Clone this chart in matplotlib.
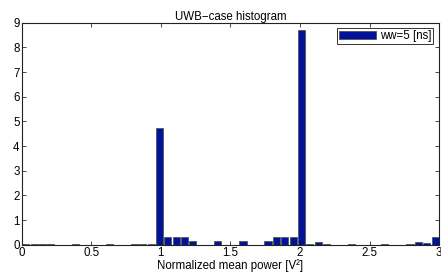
import matplotlib.pyplot as plt
import numpy as np

# bin centres (width 0.06) and bar heights
BIN_CENTERS = [0.03, 0.09, 0.15, 0.21, 0.27, 0.33, 0.39, 0.45, 0.51, 0.57,
               0.63, 0.69, 0.75, 0.81, 0.87, 0.93, 0.99, 1.05, 1.11, 1.17,
               1.23, 1.29, 1.35, 1.41, 1.47, 1.53, 1.59, 1.65, 1.71, 1.77,
               1.83, 1.89, 1.95, 2.01, 2.07, 2.13, 2.19, 2.25, 2.31, 2.37,
               2.43, 2.49, 2.55, 2.61, 2.67, 2.73, 2.79, 2.85, 2.91, 2.97]
COUNTS = [0.03, 0.03, 0.03, 0.03, 0.0, 0.0, 0.03, 0.0, 0.0, 0.0,
          0.03, 0.0, 0.0, 0.03, 0.03, 0.03, 4.73, 0.33, 0.33, 0.33,
          0.16, 0.0, 0.0, 0.16, 0.0, 0.0, 0.16, 0.0, 0.0, 0.16,
          0.33, 0.33, 0.33, 8.7, 0.05, 0.13, 0.05, 0.0, 0.0, 0.05,
          0.0, 0.0, 0.0, 0.05, 0.0, 0.0, 0.05, 0.1, 0.08, 0.33]
X_TICKS = [0, 0.5, 1, 1.5, 2, 2.5, 3]
X_TICK_LABELS = ["0", "0.5", "1", "1.5", "2", "2.5", "3"]
Y_TICKS = list(range(10))
BIN_WIDTH = 0.06

BAR_COLOR = "#00139a"
EDGE_COLOR = "#555555"
FONT_SIZE = 8.3

plt.rcParams["font.family"] = ["Liberation Sans", "DejaVu Sans"]
plt.rcParams["font.size"] = FONT_SIZE

fig = plt.figure(figsize=(4.41, 2.73), dpi=100)
ax = fig.add_axes([0.049, 0.103, 0.947, 0.814])

ax.bar(BIN_CENTERS, COUNTS, width=BIN_WIDTH * 0.85, color=BAR_COLOR,
       edgecolor=EDGE_COLOR, linewidth=0.6, label="ww=5 [ns]")

ax.set_xlim(0, 3)
ax.set_ylim(0, 9)
ax.set_xticks(X_TICKS)
ax.set_xticklabels(X_TICK_LABELS)
ax.set_yticks(Y_TICKS)
ax.tick_params(direction="in", top=True, right=True, length=3, width=0.5,
               pad=1.5, labelsize=FONT_SIZE)
for spine in ax.spines.values():
    spine.set_linewidth(0.8)
    spine.set_color("#222222")

ax.set_title("UWB\u2212case histogram", fontsize=FONT_SIZE, pad=2)
ax.set_xlabel("Normalized mean power [V\u00b2]", fontsize=FONT_SIZE, va="top")
ax.xaxis.set_label_coords(0.5, -0.065)

leg = ax.legend(loc="upper right", fontsize=FONT_SIZE, handlelength=3.2,
                handleheight=0.7, borderpad=0.15, handletextpad=0.4,
                fancybox=False, framealpha=1, borderaxespad=0.5)
leg.get_frame().set_edgecolor("#333333")
leg.get_frame().set_linewidth(0.7)

fig.savefig("out.png", dpi=100)
